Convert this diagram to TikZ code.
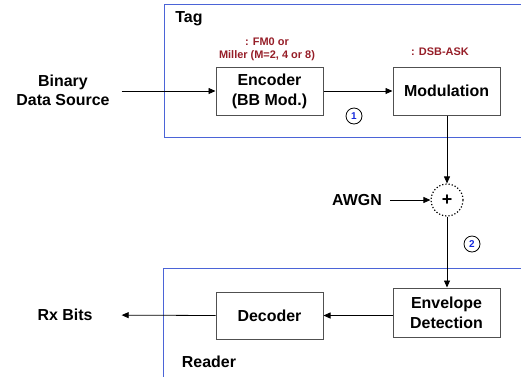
\documentclass[tikz,border=0pt]{standalone}
\usepackage{fontspec}
\setmainfont{Liberation Sans}
\usetikzlibrary{arrows.meta}
\definecolor{frameblue}{RGB}{75,100,215}
\definecolor{notered}{RGB}{150,30,40}
\definecolor{boxgray}{RGB}{80,80,80}
\definecolor{numblue}{RGB}{20,40,220}
\begin{document}
\begin{tikzpicture}[x=1bp,y=-1bp,
 blk/.style={draw=boxgray,line width=1bp,minimum width=107bp,minimum height=48bp,inner sep=0,font=\fontsize{16}{20}\selectfont\bfseries,align=center},
 lbl/.style={font=\fontsize{16}{19}\selectfont\bfseries,align=center,inner sep=0},
 note/.style={font=\fontsize{11}{13}\selectfont\bfseries,text=notered,align=center,inner sep=0},
 num/.style={circle,draw,line width=0.8bp,minimum size=16bp,inner sep=0,font=\fontsize{10}{10}\selectfont\bfseries,text=numblue},
 flow/.style={line width=0.8bp,-{Triangle[length=7bp,width=6bp]}},
 frame/.style={draw=frameblue,line width=1bp}]
\useasboundingbox (0,0) rectangle (521,377);
% frames
\draw[frame] (521,4) -- (164,4) -- (164,137) -- (521,137);
\draw[frame] (521,268) -- (163,268) -- (163,377);
% labels
\node[lbl] (tag) at (189,19) {Tag};
\node[lbl] (reader) at (209,362) {Reader};
\node[lbl] (src) at (63,90.5) {Binary\\Data Source};
\node[lbl] (awgn) at (357,200) {AWGN};
\node[lbl] (rx) at (65,315) {Rx Bits};
\node[note] (fm0) at (267,49.5) {: FM0 or\\Miller (M=2, 4 or 8)};
\node[note] (dsb) at (440,52) {: DSB-ASK};
% blocks
\node[blk] (enc) at (269.5,91) {Encoder\\(BB Mod.)};
\node[blk] (mod) at (446.5,91) {Modulation};
\node[blk,minimum height=49bp] (env) at (446.5,312.5) {Envelope\\Detection};
\node[blk,minimum height=47bp] (dec) at (269.5,315.5) {Decoder};
\node[circle,draw,dotted,line width=1.2bp,minimum size=32bp,inner sep=0,font=\fontsize{18}{18}\selectfont\bfseries] (add) at (447,200) {+};
\node[num] (n1) at (354,116) {1};
\node[num] (n2) at (472,244) {2};
% connectors
\draw[flow,shorten <=12bp] (src.east |- enc.west) -- (enc.west);
\draw[flow] (enc.east) -- (mod.west);
\draw[flow] (mod.south -| add.north) -- (add.north);
\draw[flow,shorten <=8bp] (awgn.east) -- (add.west);
\draw[flow] (add.south) -- (add.south |- env.north);
\draw[flow] (env.west |- dec.east) -- (dec.east);
\draw[flow,shorten >=29bp] (dec.west) -- (rx.east);
\end{tikzpicture}
\end{document}
